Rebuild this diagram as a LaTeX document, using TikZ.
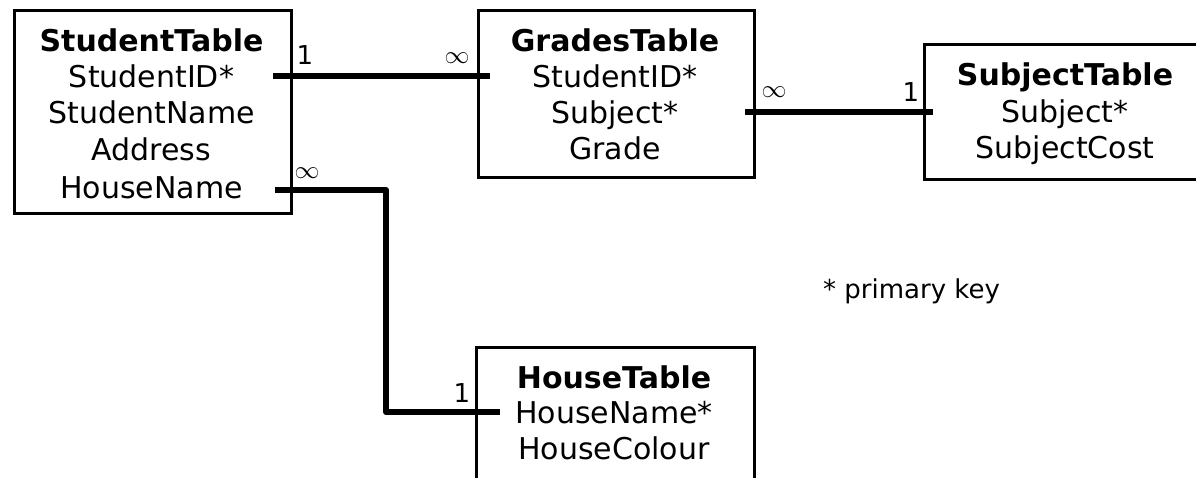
\documentclass[tikz,border=0pt]{standalone}
\usepackage{fontspec}
\setmainfont{DejaVu Sans}
\usetikzlibrary{calc}

\tikzset{
  tablebox/.style={draw, line width=3pt, anchor=north west, inner sep=0pt},
  field/.style={inner sep=0pt, text height=22pt, text depth=0pt, font=\fontsize{30}{36}\selectfont},
  title/.style={field, font=\fontsize{30}{36}\selectfont\bfseries},
  card/.style={inner sep=0pt, font=\fontsize{26}{30}\selectfont},
  many/.style={inner sep=0pt, font=\fontsize{23}{26}\selectfont},
  link/.style={line width=6pt, line join=round},
}
\newcommand{\manysign}{$\infty$}

\begin{document}
\begin{tikzpicture}[x=1pt, y=-1pt]
\useasboundingbox (0,0) rectangle (1196,477);

% tables
\node[tablebox, minimum width=277pt, minimum height=203pt] (student) at (13,9) {};
\node[title] (st-title) at (151.5,40) {StudentTable};
\node[field] (st-id) at (151.5,76) {StudentID*};
\node[field] (st-name) at (151.5,112) {StudentName};
\node[field] (st-addr) at (151.5,149) {Address};
\node[field] (st-house) at (151.5,187) {HouseName};

\node[tablebox, minimum width=276pt, minimum height=167pt] (grades) at (477,9) {};
\node[title] (gr-title) at (615,40) {GradesTable};
\node[field] (gr-id) at (615,76) {StudentID*};
\node[field] (gr-subj) at (615,112) {Subject*};
\node[field] (gr-grade) at (615,148) {Grade};

\node[tablebox, minimum width=284pt, minimum height=135pt] (subject) at (923,43) {};
\node[title] (su-title) at (1065,74) {SubjectTable};
\node[field] (su-subj) at (1065,111) {Subject*};
\node[field] (su-cost) at (1065,147) {SubjectCost};

\node[tablebox, minimum width=278pt, minimum height=160pt] (house) at (475,346) {};
\node[title] (ho-title) at (614,377) {HouseTable};
\node[field] (ho-name) at (614,412) {HouseName*};
\node[field] (ho-col) at (614,448) {HouseColour};

\node[card, anchor=west] (key) at (823,291) {* primary key};

% link ends
\coordinate (l1a) at ($(student.east |- st-id)+(-20,0)$);
\coordinate (l1b) at ($(grades.west |- st-id)+(13,0)$);
\coordinate (l2a) at ($(grades.east |- gr-subj)+(-11,0)$);
\coordinate (l2b) at ($(subject.west |- gr-subj)+(10,0)$);
\coordinate (l3a) at ($(student.east |- st-house)+(-18,3)$);
\coordinate (l3m) at (386,300);
\coordinate (l3b) at ($(house.west |- ho-name)+(25,0)$);

\draw[link] (l1a) -- (l1b);
\draw[link] (l2a) -- (l2b);
\draw[link] (l3a) -| (l3m) |- (l3b);

% cardinalities
\node[card] (c1a) at (305,55) {1};
\node[many] (c1b) at (457,58) {\manysign};
\node[many] (c2a) at (774,92) {\manysign};
\node[card] (c2b) at (911,92) {1};
\node[many] (c3a) at (307,173) {\manysign};
\node[card] (c3b) at (462,393) {1};
\end{tikzpicture}
\end{document}
